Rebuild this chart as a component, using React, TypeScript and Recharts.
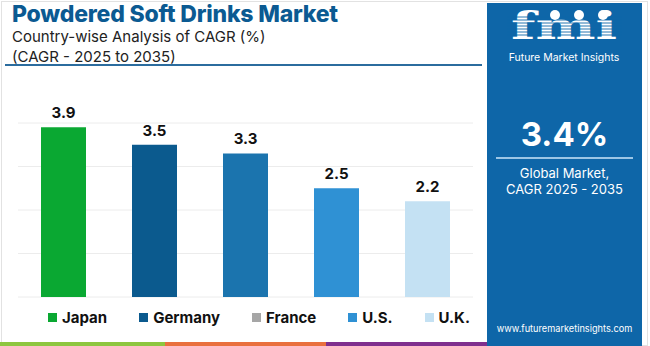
import { BarChart, Bar, XAxis, YAxis, CartesianGrid, Cell, LabelList } from "recharts";

// values
const countries = ["Japan", "Germany", "France", "U.S.", "U.K."];
const cagr = [3.9, 3.5, 3.3, 2.5, 2.2];
const barColors = ["#0aa832", "#0b5a8e", "#1b74ae", "#2f91d4", "#c4e1f3"];
const legendColors = ["#0aa832", "#0b5a8e", "#a6a6a6", "#2f91d4", "#c4e1f3"];
const yTicks = [0, 1, 2, 3, 4];

const data = countries.map((country, i) => ({ country, cagr: cagr[i] }));

const PANEL = "#0e66a8";
const FONT = "Inter, 'Open Sans', sans-serif";

const Logo = () => (
  <svg width={155} height={70} style={{ position: "absolute", left: 0, top: 0 }}>
    <text
      x={77}
      y={36}
      textAnchor="middle"
      fontFamily="'DejaVu Serif', serif"
      fontWeight={700}
      fontSize={38}
      fill="#fff"
      textLength={106}
      lengthAdjust="spacingAndGlyphs"
    >
      fmi
    </text>
    {[14, 17, 20, 23, 26, 29, 32].map((y) => (
      <line key={y} x1={20} x2={135} y1={y} y2={y} stroke={PANEL} strokeWidth={0.9} />
    ))}
    {[68, 92, 116].map((cx) => (
      <circle key={cx} cx={cx} cy={12} r={5} fill="#fff" />
    ))}
    <text x={77} y={58} textAnchor="middle" fontFamily={FONT} fontSize={10.5} fill="#fff">
      Future Market Insights
    </text>
  </svg>
);

export default function App() {
  return (
    <div
      style={{
        position: "absolute",
        left: 0,
        top: 0,
        width: 650,
        height: 346,
        overflow: "hidden",
        background: "#fff",
        fontFamily: FONT,
      }}
    >
      {/* frame */}
      <div
        style={{
          position: "absolute",
          left: 1,
          top: 1,
          width: 647,
          height: 345,
          border: "1px solid #e2e2e2",
          boxSizing: "border-box",
        }}
      />

      {/* titles */}
      <div
        style={{
          position: "absolute",
          left: 12,
          top: 0,
          fontSize: 23,
          lineHeight: "28px",
          fontWeight: 800,
          color: "#0b5a92",
          letterSpacing: -0.2,
          whiteSpace: "nowrap",
        }}
      >
        Powdered Soft Drinks Market
      </div>
      <div style={{ position: "absolute", left: 12, top: 27, fontSize: 15, color: "#222", lineHeight: "20px" }}>
        Country-wise Analysis of CAGR (%)
        <br />
        (CAGR - 2025 to 2035)
      </div>
      <div style={{ position: "absolute", left: 5, top: 64, width: 477, height: 2, background: "#2b6c9e" }} />

      {/* chart */}
      <div style={{ position: "absolute", left: 0, top: 0 }}>
        <BarChart
          width={487}
          height={346}
          data={data}
          margin={{ top: 123, right: 14, bottom: 49, left: 18 }}
        >
          <CartesianGrid vertical={false} stroke="#ececec" />
          <XAxis dataKey="country" hide />
          <YAxis hide width={0} domain={[0, 4]} ticks={yTicks} />
          <Bar dataKey="cagr" barSize={45} isAnimationActive={false}>
            {data.map((d, i) => (
              <Cell key={d.country} fill={barColors[i]} />
            ))}
            <LabelList
              dataKey="cagr"
              position="top"
              offset={9}
              fill="#111"
              fontSize={15}
              fontWeight={700}
              fontFamily={FONT}
            />
          </Bar>
        </BarChart>
      </div>

      {/* legend */}
      <div
        style={{
          position: "absolute",
          left: 48,
          top: 308,
          display: "flex",
          gap: 32,
          alignItems: "center",
          fontSize: 15,
          fontWeight: 700,
          color: "#111",
        }}
      >
        {countries.map((c, i) => (
          <div key={c} style={{ display: "flex", alignItems: "center", gap: 5 }}>
            <span style={{ width: 9, height: 9, background: legendColors[i], display: "inline-block" }} />
            <span>{c}</span>
          </div>
        ))}
      </div>

      {/* bottom strip */}
      <div style={{ position: "absolute", left: 0, top: 342, width: 165, height: 4, background: "#8dc63f" }} />
      <div style={{ position: "absolute", left: 165, top: 342, width: 161, height: 4, background: "#e9703e" }} />
      <div style={{ position: "absolute", left: 326, top: 342, width: 161, height: 4, background: "#7f2f8e" }} />

      {/* right panel */}
      <div
        style={{
          position: "absolute",
          left: 487,
          top: 3,
          width: 155,
          height: 343,
          background: PANEL,
          color: "#fff",
          textAlign: "center",
        }}
      >
        <Logo />
        <div style={{ position: "absolute", left: 0, top: 111, width: 155, fontSize: 33, fontWeight: 700 }}>3.4%</div>
        <div style={{ position: "absolute", left: 9, top: 154, width: 137, height: 2, background: "#9cc6e6" }} />
        <div style={{ position: "absolute", left: 0, top: 162, width: 155, fontSize: 13, lineHeight: "16px" }}>
          Global Market,
          <br />
          CAGR 2025 - 2035
        </div>
        <div style={{ position: "absolute", left: 0, top: 320, width: 155, fontSize: 9.2, whiteSpace: "nowrap" }}>
          www.futuremarketinsights.com
        </div>
      </div>
    </div>
  );
}
